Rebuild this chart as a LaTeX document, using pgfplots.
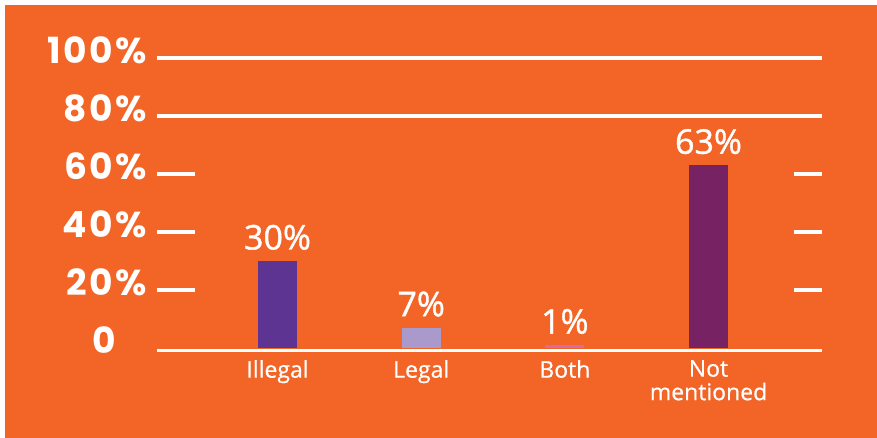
\documentclass[border=0pt]{standalone}
\usepackage{pgfplots}
\pgfplotsset{compat=1.18}
\usepackage{fontspec}
\setmainfont{Open Sans}
\newfontfamily\poppins[LetterSpace=7]{Poppins}
\newfontfamily\osvalue[FakeBold=1.2]{Open Sans}
\newfontfamily\oscat[FakeBold=0.6]{Open Sans}
\definecolor{bgorange}{HTML}{F26526}
\definecolor{cIllegal}{HTML}{5E3493}
\definecolor{cLegal}{HTML}{A99ACB}
\definecolor{cBoth}{HTML}{D66BA6}
\definecolor{cNot}{HTML}{772263}
\begin{document}
\begin{tikzpicture}
\useasboundingbox (0,0) rectangle (877pt,438pt);
\fill[white] (0,0) rectangle (877pt,438pt);
\fill[bgorange] (5pt,0) rectangle (877pt,433pt);
\begin{axis}[
  scale only axis,
  width=665pt, height=290pt,
  at={(157pt,90pt)}, anchor=south west,
  xmin=-0.839, xmax=3.79,
  ymin=0, ymax=100,
  clip=false,
  axis line style={draw=none},
  major tick length=0pt,
  xtick={0,1,2,3},
  xticklabels={Illegal,Legal,Both,{Not\\mentioned}},
  xticklabel style={anchor=north, inner sep=0pt, yshift=-12pt, align=center,
     font=\fontsize{23}{23.5}\selectfont\oscat, text=white},
  ytick={0,20,40,60,80,100},
  yticklabels={0\phantom{\%},20\%,40\%,60\%,80\%,100\%},
  yticklabel style={anchor=base east, inner sep=0pt, xshift=-10pt, yshift=-6pt,
     font=\fontsize{36}{36}\selectfont\poppins\bfseries, text=white},
  ybar, bar width=39pt, bar shift=0pt,
  /pgf/number format/assume math mode=true,
  nodes near coords={\pgfmathprintnumber{\pgfplotspointmeta}\%},
  nodes near coords style={anchor=south, yshift=11pt, inner sep=0pt,
     font=\fontsize{34}{34}\selectfont\osvalue, text=white},
]
\draw[white, line width=3.5pt] (axis cs:-0.839,100) -- (axis cs:3.79,100);
\draw[white, line width=3.5pt] (axis cs:-0.839,80) -- (axis cs:3.79,80);
\draw[white, line width=3.5pt] (axis cs:-0.839,60) -- (axis cs:-0.574,60);
\draw[white, line width=3.5pt] (axis cs:-0.839,40) -- (axis cs:-0.574,40);
\draw[white, line width=3.5pt] (axis cs:-0.839,20) -- (axis cs:-0.574,20);
\draw[white, line width=3.5pt] (axis cs:3.594,60) -- (axis cs:3.79,60);
\draw[white, line width=3.5pt] (axis cs:3.594,40) -- (axis cs:3.79,40);
\draw[white, line width=3.5pt] (axis cs:3.594,20) -- (axis cs:3.79,20);
\draw[white, line width=3.2pt] (axis cs:-0.839,-1) -- (axis cs:3.79,-1);
\addplot[fill=cIllegal, draw=none] coordinates {(0,30)};
\addplot[fill=cLegal, draw=none] coordinates {(1,7)};
\addplot[fill=cBoth, draw=none] coordinates {(2,1)};
\addplot[fill=cNot, draw=none] coordinates {(3,63)};
\end{axis}
\end{tikzpicture}
\end{document}
